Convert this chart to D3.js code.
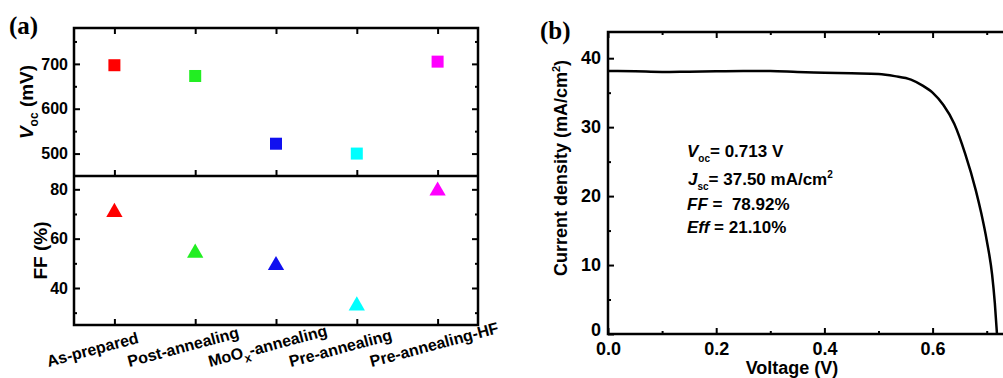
<!DOCTYPE html>
<html>
<head>
<meta charset="utf-8">
<script src="https://cdn.jsdelivr.net/npm/d3@7"></script>
<style>
  body { margin: 0; background: #fff; }
  svg { font-family: "Liberation Sans", Arial, sans-serif; font-weight: bold; }
  .domain { display: none; }
  .tick line { stroke: #000; stroke-width: 2; }
</style>
</head>
<body>
<svg id="chart" width="1003" height="378"></svg>
<script>
// panel (a) data
var categories = ["As-prepared", "Post-annealing", "MoOx-annealing", "Pre-annealing", "Pre-annealing-HF"];
var colors = ["#ff0000", "#22ee22", "#1010f0", "#00ffff", "#ff00ff"];
var vocValues = [697, 673, 522, 500, 705];
var ffValues = [70.7, 54.2, 49.2, 32.8, 79.4];
var vocTicks = [500, 600, 700];
var vocMinor = [550, 650, 750];
var ffTicks = [40, 60, 80];
var ffMinor = [30, 50, 70];

// panel (b) data: J-V curve
var voltage = [0, 0.05, 0.1, 0.15, 0.2, 0.25, 0.3, 0.35, 0.4, 0.45, 0.5, 0.53, 0.56, 0.58, 0.6, 0.62, 0.64, 0.66, 0.68, 0.69, 0.7, 0.71, 0.715, 0.719];
var current = [38.15, 38.1, 38.0, 38.05, 38.1, 38.15, 38.15, 38.0, 37.9, 37.8, 37.7, 37.4, 36.9, 36.1, 35.0, 33.2, 30.5, 26.2, 20.8, 17.5, 13.6, 8.6, 4.5, 0];
var vTicks = [0, 0.2, 0.4, 0.6];
var vMinor = [0.1, 0.3, 0.5, 0.7];
var jTicks = [0, 10, 20, 30, 40];
var jMinor = [5, 15, 25, 35];

var svg = d3.select("#chart");

function ticks(g, axis, values, size, fmt, pad, fs) {
  var a = axis.tickValues(values).tickSizeInner(-size).tickSizeOuter(0).tickPadding(pad);
  a.tickFormat(fmt ? fmt : "");
  g.call(a);
  g.selectAll("text").style("font-size", fs + "px").attr("fill", "#000");
  return g;
}

// ---------- panel (a) ----------
var aLeft = 74, aRight = 478, aTop = 28, aMid = 176, aBottom = 325;

var x = d3.scalePoint().domain(categories).range([aLeft, aRight]).padding(0.5);
var yV = d3.scaleLinear().domain([450, 780]).range([aMid, aTop]);
var yF = d3.scaleLinear().domain([25, 85.4]).range([aBottom, aMid]);

// top sub-panel axes
ticks(svg.append("g").attr("transform", "translate(" + aLeft + ",0)"), d3.axisLeft(yV), vocTicks, 6, d3.format("d"), 6, 16);
ticks(svg.append("g").attr("transform", "translate(" + aLeft + ",0)"), d3.axisLeft(yV), vocMinor, 3, null, 6, 16);
ticks(svg.append("g").attr("transform", "translate(" + aRight + ",0)"), d3.axisRight(yV), vocTicks, 6, null, 6, 16);
ticks(svg.append("g").attr("transform", "translate(" + aRight + ",0)"), d3.axisRight(yV), vocMinor, 3, null, 6, 16);
ticks(svg.append("g").attr("transform", "translate(0," + aTop + ")"), d3.axisTop(x), categories, 6, null, 6, 16);
ticks(svg.append("g").attr("transform", "translate(0," + aMid + ")"), d3.axisBottom(x), categories, 6, null, 6, 16);

// bottom sub-panel axes
ticks(svg.append("g").attr("transform", "translate(" + aLeft + ",0)"), d3.axisLeft(yF), ffTicks, 6, d3.format("d"), 6, 16);
ticks(svg.append("g").attr("transform", "translate(" + aLeft + ",0)"), d3.axisLeft(yF), ffMinor, 3, null, 6, 16);
ticks(svg.append("g").attr("transform", "translate(" + aRight + ",0)"), d3.axisRight(yF), ffTicks, 6, null, 6, 16);
ticks(svg.append("g").attr("transform", "translate(" + aRight + ",0)"), d3.axisRight(yF), ffMinor, 3, null, 6, 16);
ticks(svg.append("g").attr("transform", "translate(0," + aBottom + ")"), d3.axisBottom(x), categories, 6, null, 6, 16);

svg.append("rect")
  .attr("x", aLeft).attr("y", aTop)
  .attr("width", aRight - aLeft).attr("height", aBottom - aTop)
  .attr("fill", "none").attr("stroke", "#000").attr("stroke-width", 2.5);
svg.append("line")
  .attr("x1", aLeft).attr("x2", aRight)
  .attr("y1", aMid).attr("y2", aMid)
  .attr("stroke", "#000").attr("stroke-width", 2.5);

// Voc squares
svg.selectAll(".sq").data(vocValues).enter().append("rect")
  .attr("class", "sq")
  .attr("x", (d, i) => x(categories[i]) - 6)
  .attr("y", d => yV(d) - 6)
  .attr("width", 12).attr("height", 12)
  .attr("fill", (d, i) => colors[i]);

// FF triangles
var tri = d3.symbol().type(d3.symbolTriangle).size(115);
svg.selectAll(".tri").data(ffValues).enter().append("path")
  .attr("class", "tri")
  .attr("d", tri)
  .attr("transform", (d, i) => "translate(" + x(categories[i]) + "," + yF(d) + ")")
  .attr("fill", (d, i) => colors[i]);

// category labels
var catLabels = svg.selectAll(".cat").data(categories).enter().append("text")
  .attr("class", "cat")
  .attr("transform", d => "translate(" + (x(d) - 66) + ",367) rotate(-15)")
  .style("font-size", "16px");
catLabels.each(function(d) {
  var t = d3.select(this);
  if (d.indexOf("MoOx") === 0) {
    t.append("tspan").text("MoO");
    t.append("tspan").attr("dy", 5).style("font-size", "12px").text("x");
    t.append("tspan").attr("dy", -5).text("-annealing");
  } else {
    t.text(d);
  }
});

// axis titles
var vLab = svg.append("text")
  .attr("transform", "translate(33," + ((aTop + aMid) / 2) + ") rotate(-90)")
  .attr("text-anchor", "middle")
  .style("font-size", "19px");
vLab.append("tspan").style("font-style", "italic").text("V");
vLab.append("tspan").attr("dy", 5).style("font-size", "12px").text("oc");
vLab.append("tspan").attr("dy", -5).text(" (mV)");

svg.append("text")
  .attr("transform", "translate(47," + ((aMid + aBottom) / 2) + ") rotate(-90)")
  .attr("text-anchor", "middle")
  .style("font-size", "19px")
  .text("FF (%)");

svg.append("text")
  .attr("x", 9).attr("y", 34)
  .style("font-family", "'Liberation Serif', 'Times New Roman', serif")
  .style("font-size", "25px")
  .text("(a)");

// ---------- panel (b) ----------
var bLeft = 608, bTop = 32, bBottom = 334;
var xV = d3.scaleLinear().domain([0, 0.75]).range([bLeft, bLeft + 0.75 * 541]);
var yJ = d3.scaleLinear().domain([0, 43.8]).range([bBottom, bTop]);
var bRight = xV(0.75);

var jAxis = ticks(svg.append("g").attr("transform", "translate(" + bLeft + ",0)"), d3.axisLeft(yJ), jTicks, 6, d3.format("d"), 7, 18);
// lift the "0" label a little so it clears "0.0"
jAxis.selectAll("text").filter(d => d === 0).attr("y", -4);
ticks(svg.append("g").attr("transform", "translate(" + bLeft + ",0)"), d3.axisLeft(yJ), jMinor, 3, null, 7, 18);
ticks(svg.append("g").attr("transform", "translate(0," + bBottom + ")"), d3.axisBottom(xV), vTicks, 6, d3.format(".1f"), 8, 18);
ticks(svg.append("g").attr("transform", "translate(0," + bBottom + ")"), d3.axisBottom(xV), vMinor, 3, null, 8, 18);
ticks(svg.append("g").attr("transform", "translate(0," + bTop + ")"), d3.axisTop(xV), vTicks, 6, null, 7, 18);
ticks(svg.append("g").attr("transform", "translate(0," + bTop + ")"), d3.axisTop(xV), vMinor, 3, null, 7, 18);

svg.append("defs").append("clipPath").attr("id", "clipb")
  .append("rect").attr("x", bLeft).attr("y", bTop)
  .attr("width", bRight - bLeft).attr("height", bBottom - bTop);

var line = d3.line()
  .x((d, i) => xV(voltage[i]))
  .y(d => yJ(d))
  .curve(d3.curveMonotoneX);

svg.append("path")
  .attr("d", line(current))
  .attr("clip-path", "url(#clipb)")
  .attr("fill", "none")
  .attr("stroke", "#000")
  .attr("stroke-width", 2.5);

svg.append("rect")
  .attr("x", bLeft).attr("y", bTop)
  .attr("width", bRight - bLeft).attr("height", bBottom - bTop)
  .attr("fill", "none").attr("stroke", "#000").attr("stroke-width", 2.5);

// annotations
var ann = svg.append("g").style("font-size", "17px");
var t1 = ann.append("text").attr("x", 687).attr("y", 157);
t1.append("tspan").style("font-style", "italic").text("V");
t1.append("tspan").attr("dy", 5).style("font-size", "10px").text("oc");
t1.append("tspan").attr("dy", -5).text("= 0.713 V");
var t2 = ann.append("text").attr("x", 688).attr("y", 185);
t2.append("tspan").style("font-style", "italic").text("J");
t2.append("tspan").attr("dy", 5).style("font-size", "10px").text("sc");
t2.append("tspan").attr("dy", -5).text("= 37.50 mA/cm");
t2.append("tspan").attr("dy", -7).style("font-size", "10px").text("2");
var t3 = ann.append("text").attr("x", 687).attr("y", 210).attr("xml:space", "preserve");
t3.append("tspan").style("font-style", "italic").text("FF");
t3.append("tspan").text(" =  78.92%");
var t4 = ann.append("text").attr("x", 687).attr("y", 233);
t4.append("tspan").style("font-style", "italic").text("Eff");
t4.append("tspan").text(" = 21.10%");

var jLab = svg.append("text")
  .attr("transform", "translate(567,168) rotate(-90)")
  .attr("text-anchor", "middle")
  .style("font-size", "18px");
jLab.append("tspan").text("Current density (mA/cm");
jLab.append("tspan").attr("dy", -7).style("font-size", "11px").text("2");
jLab.append("tspan").attr("dy", 7).text(")");

svg.append("text")
  .attr("x", 792).attr("y", 374)
  .attr("text-anchor", "middle")
  .style("font-size", "18px")
  .text("Voltage (V)");

svg.append("text")
  .attr("x", 540).attr("y", 39)
  .style("font-family", "'Liberation Serif', 'Times New Roman', serif")
  .style("font-size", "25px")
  .text("(b)");
</script>
</body>
</html>
